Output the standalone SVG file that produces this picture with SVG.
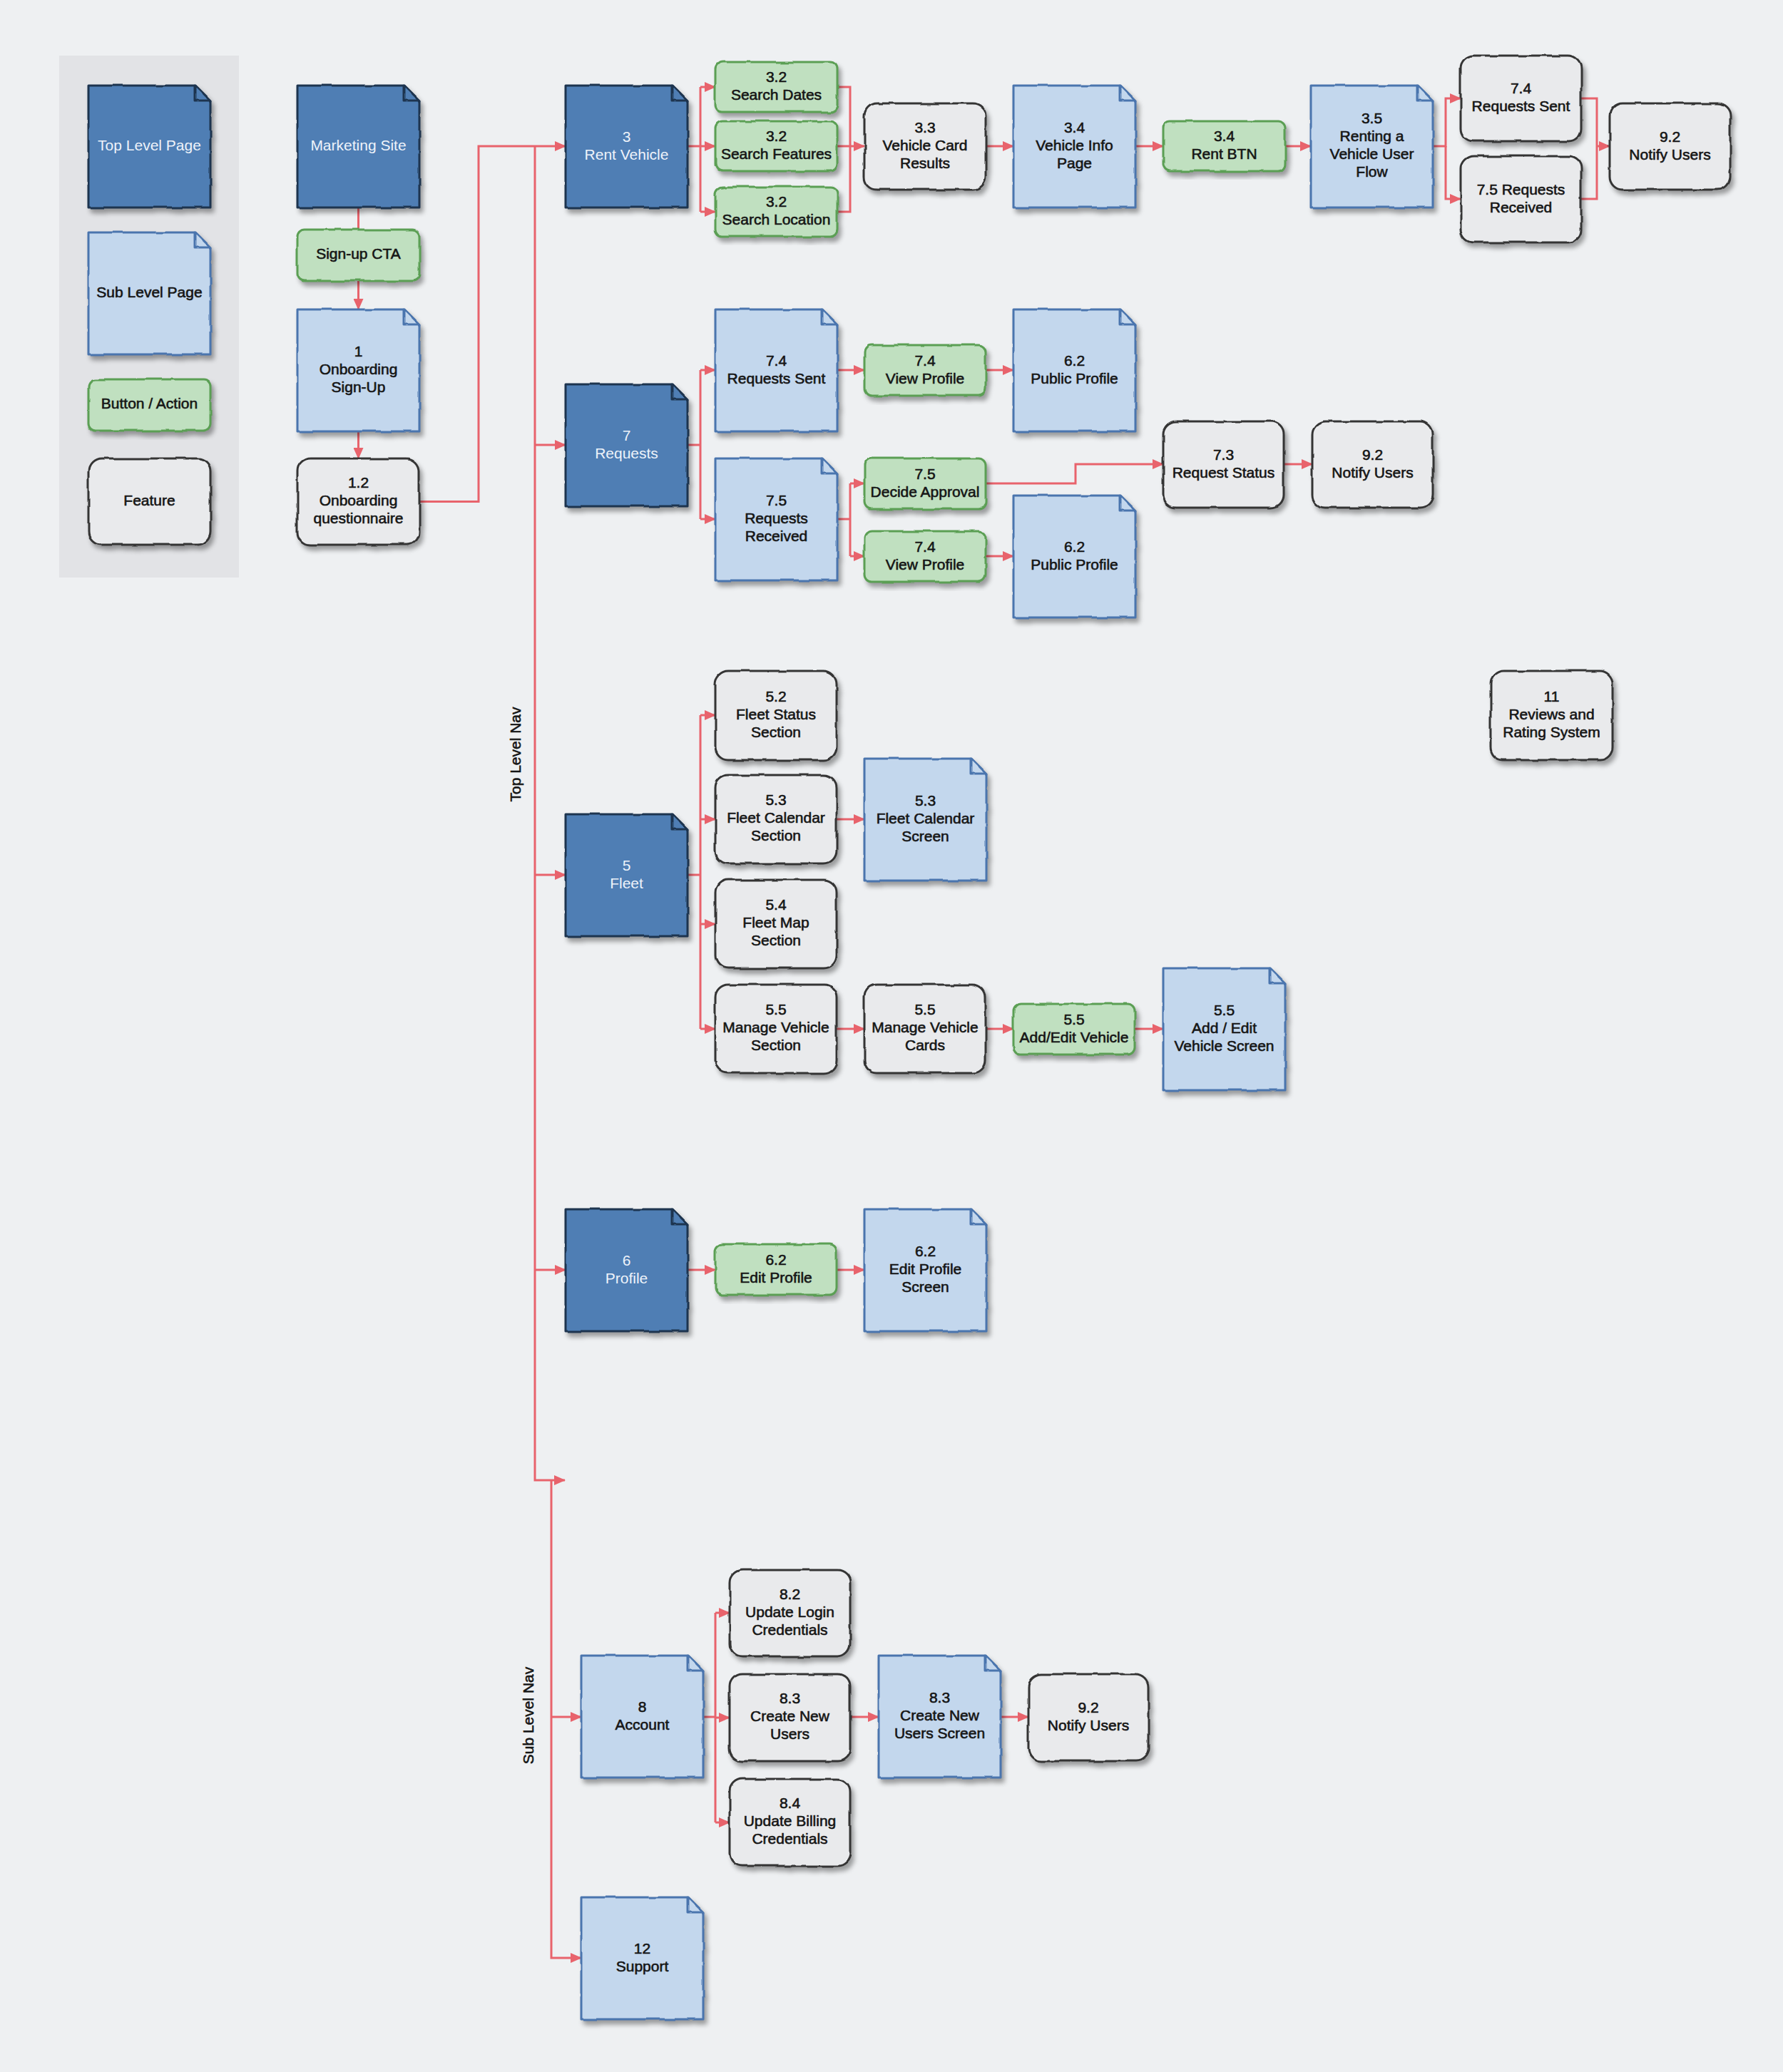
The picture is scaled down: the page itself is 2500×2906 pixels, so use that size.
<svg xmlns="http://www.w3.org/2000/svg" xmlns:xlink="http://www.w3.org/1999/xlink" width="2500" height="2906" viewBox="0 0 2500 2906">
<style>
.top{fill:#4f7eb4;stroke:#1d344f;stroke-width:3;stroke-linejoin:round}
.sub{fill:#c3d7ed;stroke:#4a75ae;stroke-width:3;stroke-linejoin:round}
.btn{fill:#c0e0c0;stroke:#5b9f54;stroke-width:3}
.feat{fill:#e9eaec;stroke:#343434;stroke-width:3}
.sk{filter:url(#sk)}
.t{font-family:"Liberation Sans",Arial,sans-serif;font-size:21px;fill:#151515;stroke:#151515;stroke-width:0.6;text-anchor:middle}
.tw{fill:#eef3fa;stroke:none}
.c{fill:none;stroke:#e8636c;stroke-width:3;stroke-linejoin:miter}
.a{marker-end:url(#ah)}
</style>
<defs>
<filter id="sk" x="-8%" y="-8%" width="120%" height="125%" color-interpolation-filters="sRGB">
<feTurbulence type="fractalNoise" baseFrequency="0.035" numOctaves="2" seed="7" result="n"/>
<feDisplacementMap in="SourceGraphic" in2="n" scale="5" xChannelSelector="R" yChannelSelector="G" result="d"/>
<feDropShadow in="d" dx="4" dy="6" stdDeviation="3" flood-color="#000" flood-opacity="0.35"/>
</filter>
<g id="page"><path d="M0 0 h149 l22 22 v149 h-171 z"/><path d="M149 0 v22 h22 z"/></g>
<marker id="ah" markerWidth="16" markerHeight="14" refX="15" refY="7" orient="auto" markerUnits="userSpaceOnUse"><path d="M0 0 L16 7 L0 14 z" fill="#e8636c"/></marker>
</defs>
<rect width="2500" height="2906" fill="#eef0f2"/>
<rect x="83" y="78" width="252" height="732" fill="#e2e3e6"/>

<g id="connectors">
<path class="c" d="M502.5 291 V322"/>
<path class="c a" d="M502.5 394 V434"/>
<path class="c a" d="M502.5 605 V643"/>
<path class="c a" d="M588 703.5 H671 V205 H793"/>
<path class="c a" d="M750 205 V2076 H792"/>
<path class="c a" d="M750 624 H793"/>
<path class="c a" d="M750 1227 H793"/>
<path class="c a" d="M750 1781 H793"/>
<path class="c a" d="M773 2076 V2746 H815"/>
<path class="c a" d="M773 2408 H815"/>
<path class="c" d="M964 205 H982 M982 122 V297"/>
<path class="c a" d="M982 122 H1003"/>
<path class="c a" d="M982 205 H1003"/>
<path class="c a" d="M982 297 H1003"/>
<path class="c" d="M1174 122 H1192 V297 H1174"/>
<path class="c a" d="M1174 205 H1212"/>
<path class="c a" d="M1382 205 H1421"/>
<path class="c a" d="M1592 205 H1631"/>
<path class="c a" d="M1802 205 H1838"/>
<path class="c a" d="M2009 205 H2027 V138 H2048"/>
<path class="c a" d="M2027 205 V279 H2048"/>
<path class="c" d="M2217 138 H2239 V279 H2217"/>
<path class="c a" d="M2239 205 H2257"/>
<path class="c" d="M964 624 H982 M982 519 V728"/>
<path class="c a" d="M982 519 H1003"/>
<path class="c a" d="M982 728 H1003"/>
<path class="c a" d="M1174 519 H1212"/>
<path class="c a" d="M1382 519 H1421"/>
<path class="c" d="M1174 728 H1192 M1192 678 V780"/>
<path class="c a" d="M1192 678 H1212"/>
<path class="c a" d="M1192 780 H1212"/>
<path class="c a" d="M1382 780 H1421"/>
<path class="c a" d="M1382 678 H1508 V651 H1631"/>
<path class="c a" d="M1800 651 H1840"/>
<path class="c" d="M964 1227 H982 M982 1003 V1443"/>
<path class="c a" d="M982 1003 H1003"/>
<path class="c a" d="M982 1149 H1003"/>
<path class="c a" d="M982 1296 H1003"/>
<path class="c a" d="M982 1443 H1003"/>
<path class="c a" d="M1173 1149 H1212"/>
<path class="c a" d="M1173 1443 H1212"/>
<path class="c a" d="M1382 1443 H1421"/>
<path class="c a" d="M1591 1443 H1631"/>
<path class="c a" d="M964 1781 H1003"/>
<path class="c a" d="M1173 1781 H1212"/>
<path class="c" d="M983 2408 H1003 M1003 2262 V2556"/>
<path class="c a" d="M1003 2262 H1023"/>
<path class="c a" d="M1003 2409 H1023"/>
<path class="c a" d="M1003 2556 H1023"/>
<path class="c a" d="M1192 2408 H1232"/>
<path class="c a" d="M1403 2408 H1442"/>
</g>

<text class="t" transform="translate(730,1058) rotate(-90)">Top Level Nav</text>
<text class="t" transform="translate(748,2406) rotate(-90)">Sub Level Nav</text>

<g id="legend-top"><use href="#page" x="124" y="120" class="top sk"/><text class="t tw" x="209.5" y="210.5">Top Level Page</text></g>
<g id="legend-sub"><use href="#page" x="124" y="326" class="sub sk"/><text class="t" x="209.5" y="416.5">Sub Level Page</text></g>
<g id="legend-btn"><rect x="124" y="532" width="171" height="72" rx="10" class="btn sk"/><text class="t" x="209.5" y="573">Button / Action</text></g>
<g id="legend-feat"><rect x="124" y="643" width="171" height="121" rx="18" class="feat sk"/><text class="t" x="209.5" y="708.5">Feature</text></g>

<g id="marketing"><use href="#page" x="417" y="120" class="top sk"/><text class="t tw" x="502.5" y="210.5">Marketing Site</text></g>
<g id="signup-cta"><rect x="417" y="322" width="171" height="72" rx="10" class="btn sk"/><text class="t" x="502.5" y="363">Sign-up CTA</text></g>
<g id="onboarding"><use href="#page" x="417" y="434" class="sub sk"/><text class="t" x="502.5" y="499.5">1<tspan x="502.5" dy="25">Onboarding</tspan><tspan x="502.5" dy="25">Sign-Up</tspan></text></g>
<g id="questionnaire"><rect x="417" y="643" width="171" height="121" rx="18" class="feat sk"/><text class="t" x="502.5" y="683.5">1.2<tspan x="502.5" dy="25">Onboarding</tspan><tspan x="502.5" dy="25">questionnaire</tspan></text></g>

<g id="rent-vehicle"><use href="#page" x="793" y="120" class="top sk"/><text class="t tw" x="878.5" y="198.5">3<tspan x="878.5" dy="25">Rent Vehicle</tspan></text></g>
<g id="requests"><use href="#page" x="793" y="539" class="top sk"/><text class="t tw" x="878.5" y="617.5">7<tspan x="878.5" dy="25">Requests</tspan></text></g>
<g id="fleet"><use href="#page" x="793" y="1142" class="top sk"/><text class="t tw" x="878.5" y="1220.5">5<tspan x="878.5" dy="25">Fleet</tspan></text></g>
<g id="profile"><use href="#page" x="793" y="1696" class="top sk"/><text class="t tw" x="878.5" y="1774.5">6<tspan x="878.5" dy="25">Profile</tspan></text></g>

<g id="search-dates"><rect x="1003" y="87" width="171" height="70" rx="10" class="btn sk"/><text class="t" x="1088.5" y="115">3.2<tspan x="1088.5" dy="25">Search Dates</tspan></text></g>
<g id="search-features"><rect x="1003" y="170" width="171" height="70" rx="10" class="btn sk"/><text class="t" x="1088.5" y="198">3.2<tspan x="1088.5" dy="25">Search Features</tspan></text></g>
<g id="search-location"><rect x="1003" y="262" width="171" height="70" rx="10" class="btn sk"/><text class="t" x="1088.5" y="290">3.2<tspan x="1088.5" dy="25">Search Location</tspan></text></g>
<g id="card-results"><rect x="1212" y="145" width="170" height="121" rx="18" class="feat sk"/><text class="t" x="1297" y="185.5">3.3<tspan x="1297" dy="25">Vehicle Card</tspan><tspan x="1297" dy="25">Results</tspan></text></g>
<g id="vehicle-info"><use href="#page" x="1421" y="120" class="sub sk"/><text class="t" x="1506.5" y="185.5">3.4<tspan x="1506.5" dy="25">Vehicle Info</tspan><tspan x="1506.5" dy="25">Page</tspan></text></g>
<g id="rent-btn"><rect x="1631" y="170" width="171" height="70" rx="10" class="btn sk"/><text class="t" x="1716.5" y="198">3.4<tspan x="1716.5" dy="25">Rent BTN</tspan></text></g>
<g id="renting-flow"><use href="#page" x="1838" y="120" class="sub sk"/><text class="t" x="1923.5" y="173">3.5<tspan x="1923.5" dy="25">Renting a</tspan><tspan x="1923.5" dy="25">Vehicle User</tspan><tspan x="1923.5" dy="25">Flow</tspan></text></g>
<g id="rf-requests-sent"><rect x="2048" y="78" width="169" height="120" rx="18" class="feat sk"/><text class="t" x="2132.5" y="131">7.4<tspan x="2132.5" dy="25">Requests Sent</tspan></text></g>
<g id="rf-requests-received"><rect x="2048" y="219" width="169" height="121" rx="18" class="feat sk"/><text class="t" x="2132.5" y="272.5">7.5 Requests<tspan x="2132.5" dy="25">Received</tspan></text></g>
<g id="rf-notify"><rect x="2257" y="145" width="169" height="121" rx="18" class="feat sk"/><text class="t" x="2341.5" y="198.5">9.2<tspan x="2341.5" dy="25">Notify Users</tspan></text></g>

<g id="rq-sent"><use href="#page" x="1003" y="434" class="sub sk"/><text class="t" x="1088.5" y="512.5">7.4<tspan x="1088.5" dy="25">Requests Sent</tspan></text></g>
<g id="rq-received"><use href="#page" x="1003" y="643" class="sub sk"/><text class="t" x="1088.5" y="708.5">7.5<tspan x="1088.5" dy="25">Requests</tspan><tspan x="1088.5" dy="25">Received</tspan></text></g>
<g id="view-profile-1"><rect x="1212" y="484" width="170" height="71" rx="10" class="btn sk"/><text class="t" x="1297" y="512.5">7.4<tspan x="1297" dy="25">View Profile</tspan></text></g>
<g id="public-profile-1"><use href="#page" x="1421" y="434" class="sub sk"/><text class="t" x="1506.5" y="512.5">6.2<tspan x="1506.5" dy="25">Public Profile</tspan></text></g>
<g id="decide-approval"><rect x="1212" y="643" width="170" height="71" rx="10" class="btn sk"/><text class="t" x="1297" y="671.5">7.5<tspan x="1297" dy="25">Decide Approval</tspan></text></g>
<g id="view-profile-2"><rect x="1212" y="745" width="170" height="71" rx="10" class="btn sk"/><text class="t" x="1297" y="773.5">7.4<tspan x="1297" dy="25">View Profile</tspan></text></g>
<g id="public-profile-2"><use href="#page" x="1421" y="695" class="sub sk"/><text class="t" x="1506.5" y="773.5">6.2<tspan x="1506.5" dy="25">Public Profile</tspan></text></g>
<g id="request-status"><rect x="1631" y="591" width="169" height="121" rx="18" class="feat sk"/><text class="t" x="1715.5" y="644.5">7.3<tspan x="1715.5" dy="25">Request Status</tspan></text></g>
<g id="rq-notify"><rect x="1840" y="591" width="169" height="121" rx="18" class="feat sk"/><text class="t" x="1924.5" y="644.5">9.2<tspan x="1924.5" dy="25">Notify Users</tspan></text></g>

<g id="fleet-status"><rect x="1003" y="941" width="170" height="125" rx="18" class="feat sk"/><text class="t" x="1088" y="983.5">5.2<tspan x="1088" dy="25">Fleet Status</tspan><tspan x="1088" dy="25">Section</tspan></text></g>
<g id="fleet-calendar"><rect x="1003" y="1087" width="170" height="124" rx="18" class="feat sk"/><text class="t" x="1088" y="1129">5.3<tspan x="1088" dy="25">Fleet Calendar</tspan><tspan x="1088" dy="25">Section</tspan></text></g>
<g id="fleet-map"><rect x="1003" y="1234" width="170" height="124" rx="18" class="feat sk"/><text class="t" x="1088" y="1276">5.4<tspan x="1088" dy="25">Fleet Map</tspan><tspan x="1088" dy="25">Section</tspan></text></g>
<g id="manage-vehicle"><rect x="1003" y="1381" width="170" height="124" rx="18" class="feat sk"/><text class="t" x="1088" y="1423">5.5<tspan x="1088" dy="25">Manage Vehicle</tspan><tspan x="1088" dy="25">Section</tspan></text></g>
<g id="fleet-calendar-screen"><use href="#page" x="1212" y="1064" class="sub sk"/><text class="t" x="1297.5" y="1129.5">5.3<tspan x="1297.5" dy="25">Fleet Calendar</tspan><tspan x="1297.5" dy="25">Screen</tspan></text></g>
<g id="manage-vehicle-cards"><rect x="1212" y="1381" width="170" height="124" rx="18" class="feat sk"/><text class="t" x="1297" y="1423">5.5<tspan x="1297" dy="25">Manage Vehicle</tspan><tspan x="1297" dy="25">Cards</tspan></text></g>
<g id="add-edit-vehicle"><rect x="1421" y="1408" width="170" height="71" rx="10" class="btn sk"/><text class="t" x="1506" y="1436.5">5.5<tspan x="1506" dy="25">Add/Edit Vehicle</tspan></text></g>
<g id="add-edit-screen"><use href="#page" x="1631" y="1358" class="sub sk"/><text class="t" x="1716.5" y="1423.5">5.5<tspan x="1716.5" dy="25">Add / Edit</tspan><tspan x="1716.5" dy="25">Vehicle Screen</tspan></text></g>
<g id="reviews"><rect x="2090" y="941" width="171" height="125" rx="18" class="feat sk"/><text class="t" x="2175.5" y="983.5">11<tspan x="2175.5" dy="25">Reviews and</tspan><tspan x="2175.5" dy="25">Rating System</tspan></text></g>

<g id="edit-profile"><rect x="1003" y="1745" width="170" height="71" rx="10" class="btn sk"/><text class="t" x="1088" y="1773.5">6.2<tspan x="1088" dy="25">Edit Profile</tspan></text></g>
<g id="edit-profile-screen"><use href="#page" x="1212" y="1696" class="sub sk"/><text class="t" x="1297.5" y="1761.5">6.2<tspan x="1297.5" dy="25">Edit Profile</tspan><tspan x="1297.5" dy="25">Screen</tspan></text></g>

<g id="account"><use href="#page" x="815" y="2322" class="sub sk"/><text class="t" x="900.5" y="2400.5">8<tspan x="900.5" dy="25">Account</tspan></text></g>
<g id="update-login"><rect x="1023" y="2202" width="169" height="121" rx="18" class="feat sk"/><text class="t" x="1107.5" y="2242.5">8.2<tspan x="1107.5" dy="25">Update Login</tspan><tspan x="1107.5" dy="25">Credentials</tspan></text></g>
<g id="create-users"><rect x="1023" y="2348" width="169" height="122" rx="18" class="feat sk"/><text class="t" x="1107.5" y="2389">8.3<tspan x="1107.5" dy="25">Create New</tspan><tspan x="1107.5" dy="25">Users</tspan></text></g>
<g id="update-billing"><rect x="1023" y="2495" width="169" height="122" rx="18" class="feat sk"/><text class="t" x="1107.5" y="2536">8.4<tspan x="1107.5" dy="25">Update Billing</tspan><tspan x="1107.5" dy="25">Credentials</tspan></text></g>
<g id="create-users-screen"><use href="#page" x="1232" y="2322" class="sub sk"/><text class="t" x="1317.5" y="2387.5">8.3<tspan x="1317.5" dy="25">Create New</tspan><tspan x="1317.5" dy="25">Users Screen</tspan></text></g>
<g id="acc-notify"><rect x="1442" y="2348" width="168" height="122" rx="18" class="feat sk"/><text class="t" x="1526" y="2402">9.2<tspan x="1526" dy="25">Notify Users</tspan></text></g>
<g id="support"><use href="#page" x="815" y="2661" class="sub sk"/><text class="t" x="900.5" y="2739.5">12<tspan x="900.5" dy="25">Support</tspan></text></g>
</svg>
